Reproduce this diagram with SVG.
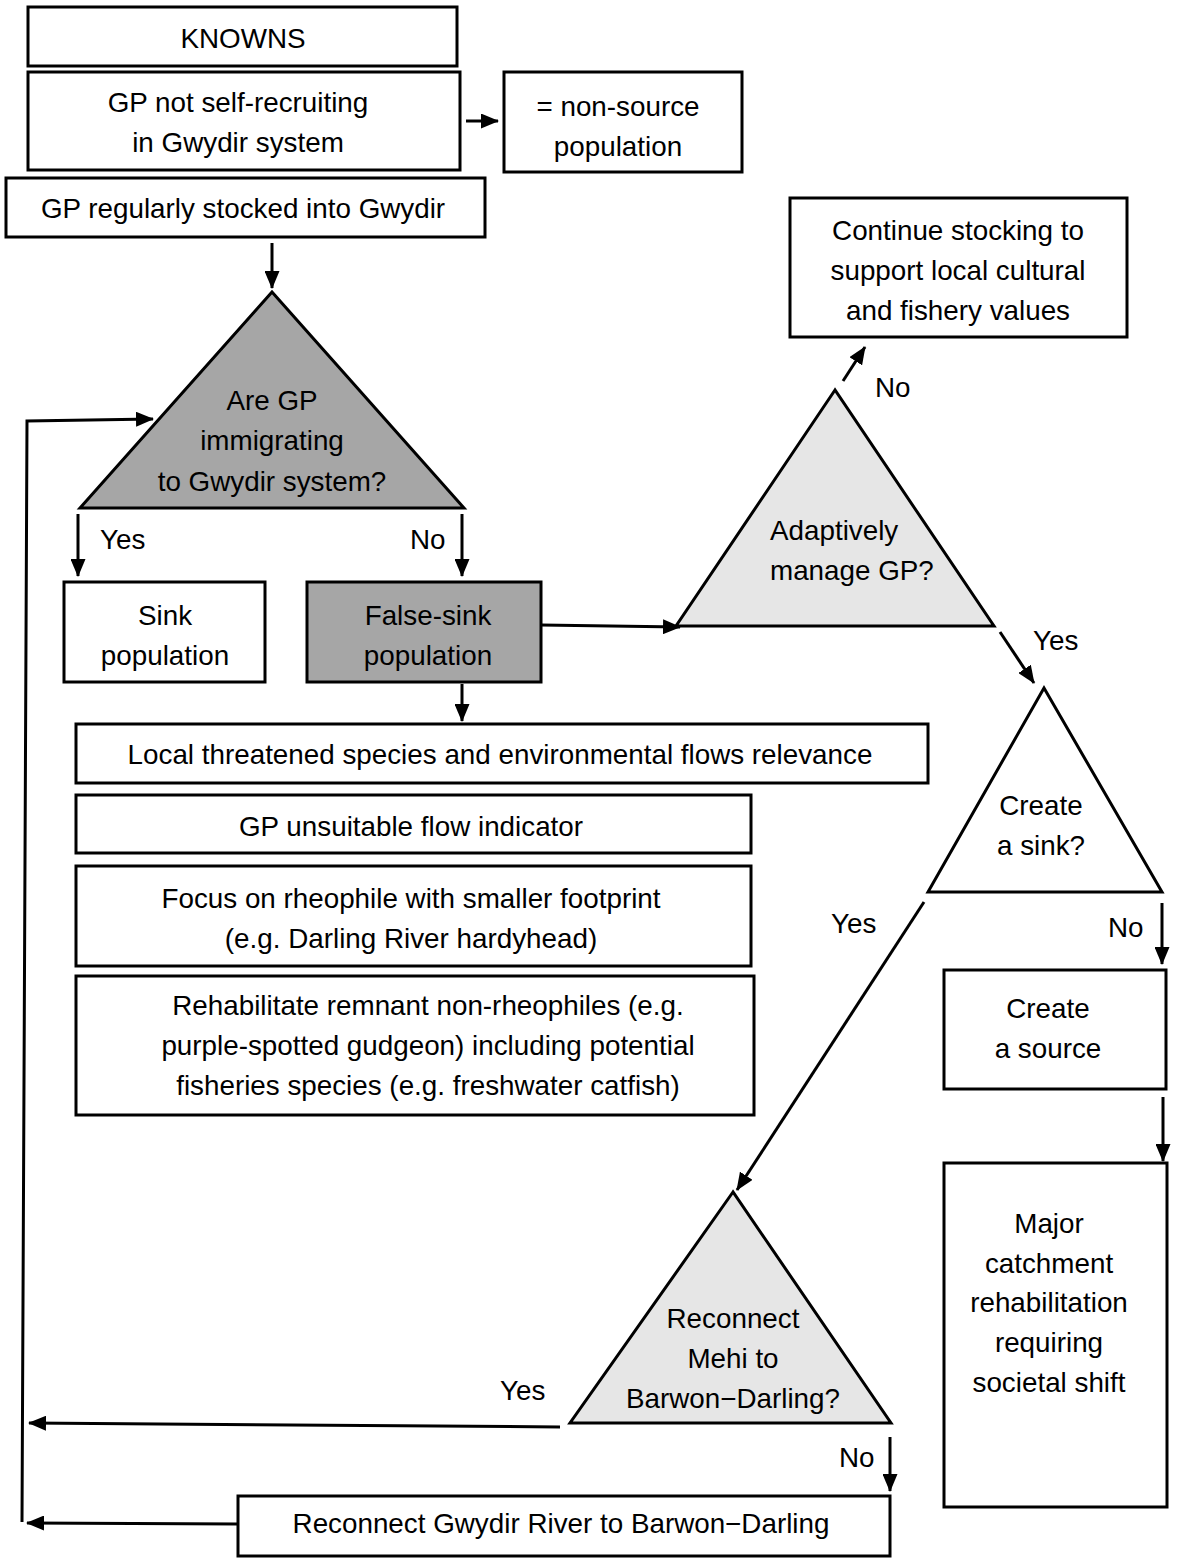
<svg xmlns="http://www.w3.org/2000/svg" width="1178" height="1564" viewBox="0 0 1178 1564">
<defs>
<marker id="ah" markerWidth="18" markerHeight="15" refX="17" refY="7.5" orient="auto" markerUnits="userSpaceOnUse">
<path d="M0,0 L18,7.5 L0,15 Z" fill="#000"/>
</marker>
<style>
.w, .d, .l { stroke:#000; stroke-width:3; }
.w { fill:#fff; }
.d { fill:#a6a6a6; }
.l { fill:#e6e6e6; }
text { font-family:"Liberation Sans", Arial, sans-serif; font-size:27.8px; fill:#000; }
.c { text-anchor:middle; }
.conn line, .conn polyline { stroke:#000; stroke-width:3; fill:none; marker-end:url(#ah); }
</style>
</defs>
<rect width="1178" height="1564" fill="#fff"/>

<g id="knowns"><rect class="w" x="28" y="7" width="429" height="59"/><text class="c" x="243" y="48">KNOWNS</text></g>
<g id="notself"><rect class="w" x="28" y="72" width="432" height="98"/><text class="c" x="238" y="112">GP not self-recruiting</text><text class="c" x="238" y="152">in Gwydir system</text></g>
<g id="nonsource"><rect class="w" x="504" y="72" width="238" height="100"/><text class="c" x="618" y="116">= non-source</text><text class="c" x="618" y="156">population</text></g>
<g id="stocked"><rect class="w" x="6" y="178" width="479" height="59"/><text class="c" x="243" y="218">GP regularly stocked into Gwydir</text></g>
<g id="q1"><polygon class="d" points="272,292 80,508 464,508"/><text class="c" x="272" y="410">Are GP</text><text class="c" x="272" y="450">immigrating</text><text class="c" x="272" y="491">to Gwydir system?</text></g>
<g id="sink"><rect class="w" x="64" y="582" width="201" height="100"/><text class="c" x="165" y="625">Sink</text><text class="c" x="165" y="665">population</text></g>
<g id="falsesink"><rect class="d" x="307" y="582" width="234" height="100"/><text class="c" x="428" y="625">False-sink</text><text class="c" x="428" y="665">population</text></g>
<g id="local"><rect class="w" x="76" y="724" width="852" height="59"/><text class="c" x="500" y="764">Local threatened species and environmental flows relevance</text></g>
<g id="unsuitable"><rect class="w" x="76" y="795" width="675" height="58"/><text class="c" x="411" y="836">GP unsuitable flow indicator</text></g>
<g id="focus"><rect class="w" x="76" y="866" width="675" height="100"/><text class="c" x="411" y="908">Focus on rheophile with smaller footprint</text><text class="c" x="411" y="948">(e.g. Darling River hardyhead)</text></g>
<g id="rehab"><rect class="w" x="76" y="976" width="678" height="139"/><text class="c" x="428" y="1015">Rehabilitate remnant non-rheophiles (e.g.</text><text class="c" x="428" y="1055">purple-spotted gudgeon) including potential</text><text class="c" x="428" y="1095">fisheries species (e.g. freshwater catfish)</text></g>
<g id="q2"><polygon class="l" points="835,390 676,626 994,626"/><text x="770" y="540">Adaptively</text><text x="770" y="580">manage GP?</text></g>
<g id="continue"><rect class="w" x="790" y="198" width="337" height="139"/><text class="c" x="958" y="240">Continue stocking to</text><text class="c" x="958" y="280">support local cultural</text><text class="c" x="958" y="320">and fishery values</text></g>
<g id="q3"><polygon class="w" points="1044,688 928,892 1162,892"/><text class="c" x="1041" y="815">Create</text><text class="c" x="1041" y="855">a sink?</text></g>
<g id="source"><rect class="w" x="944" y="970" width="222" height="119"/><text class="c" x="1048" y="1018">Create</text><text class="c" x="1048" y="1058">a source</text></g>
<g id="major"><rect class="w" x="944" y="1163" width="223" height="344"/><text class="c" x="1049" y="1233">Major</text><text class="c" x="1049" y="1273">catchment</text><text class="c" x="1049" y="1312">rehabilitation</text><text class="c" x="1049" y="1352">requiring</text><text class="c" x="1049" y="1392">societal shift</text></g>
<g id="q4"><polygon class="l" points="733,1192 570,1423 891,1423"/><text class="c" x="733" y="1328">Reconnect</text><text class="c" x="733" y="1368">Mehi to</text><text class="c" x="733" y="1408">Barwon−Darling?</text></g>
<g id="gwydir"><rect class="w" x="238" y="1496" width="652" height="60"/><text class="c" x="561" y="1533">Reconnect Gwydir River to Barwon−Darling</text></g>

<g class="conn">
<line x1="466" y1="121" x2="498" y2="121"/>
<line x1="272" y1="243" x2="272" y2="288"/>
<line x1="78" y1="514" x2="78" y2="576"/>
<line x1="462" y1="514" x2="462" y2="576"/>
<line x1="541" y1="625" x2="680" y2="627"/>
<line x1="462" y1="684" x2="462" y2="721"/>
<line x1="843" y1="381" x2="865" y2="347"/>
<line x1="1000" y1="632" x2="1034" y2="683"/>
<line x1="1162" y1="903" x2="1162" y2="964"/>
<line x1="1163" y1="1097" x2="1163" y2="1161"/>
<line x1="924" y1="902" x2="737" y2="1190"/>
<line x1="890" y1="1437" x2="890" y2="1491"/>
<line x1="560" y1="1427" x2="29" y2="1423"/>
<line x1="238" y1="1524" x2="27" y2="1523"/>
<polyline points="22,1522 27,421 153,419"/>
</g>
<g id="labels">
<text x="100" y="549">Yes</text>
<text x="410" y="549">No</text>
<text x="875" y="397">No</text>
<text x="1033" y="650">Yes</text>
<text x="1108" y="937">No</text>
<text x="831" y="933">Yes</text>
<text x="500" y="1400">Yes</text>
<text x="839" y="1467">No</text>
</g>
</svg>
